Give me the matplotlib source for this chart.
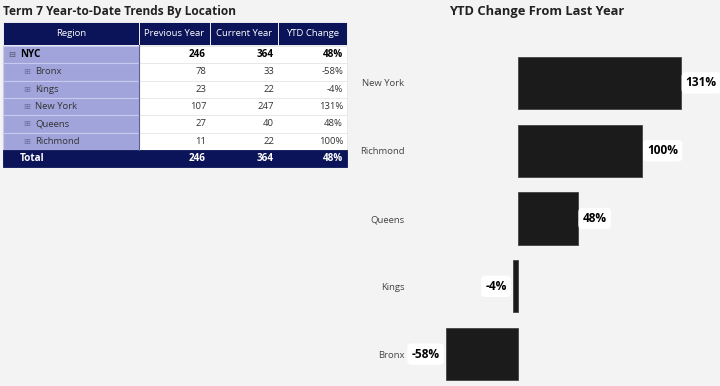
import matplotlib
matplotlib.use('Agg')
import matplotlib.pyplot as plt
from matplotlib.patches import Rectangle

plt.rcParams['font.family'] = ['Open Sans', 'DejaVu Sans']

# data
regions = ['Bronx', 'Kings', 'New York', 'Queens', 'Richmond']
prev_year = [78, 23, 107, 27, 11]
curr_year = [33, 22, 247, 40, 22]
ytd_change = [-58, -4, 131, 48, 100]
total_prev = 246
total_curr = 364
total_ytd = 48
headers = ['Region', 'Previous Year', 'Current Year', 'YTD Change']

bg = '#f3f3f3'
navy = '#0b1459'
lilac = '#a0a4da'
lilac_line = '#c7caee'

fig = plt.figure(figsize=(7.2, 3.86), dpi=100)
fig.patch.set_facecolor(bg)

# table drawn in pixel space
tab = fig.add_axes([0, 0, 1, 1])
tab.set_xlim(0, 720)
tab.set_ylim(386, 0)
tab.axis('off')

tab.text(3, 12, 'Term 7 Year-to-Date Trends By Location', fontsize=8.6,
         fontweight='bold', va='center', ha='left', color='#222222')

col_w = [136, 71, 68, 69]
x0 = 3
col_x = [x0]
for w in col_w:
    col_x.append(col_x[-1] + w)
head_top, head_h = 22, 23
row_h = 17.3
total_h = 17
fs = 6.8

# header
for i, h in enumerate(headers):
    tab.add_patch(Rectangle((col_x[i], head_top), col_w[i], head_h,
                            facecolor=navy, edgecolor='white', lw=0.6))
    tab.text((col_x[i] + col_x[i + 1]) / 2, head_top + head_h / 2, h,
             color='white', fontsize=fs, ha='center', va='center')

rows = [('NYC', total_prev, total_curr, total_ytd, True)]
for r, p, c, y in zip(regions, prev_year, curr_year, ytd_change):
    rows.append((r, p, c, y, False))

y = head_top + head_h + 1
for name, p, c, yc, is_parent in rows:
    tab.add_patch(Rectangle((col_x[0], y), col_w[0], row_h,
                            facecolor=lilac, edgecolor=lilac_line, lw=0.8))
    tab.add_patch(Rectangle((col_x[1], y), col_x[4] - col_x[1], row_h,
                            facecolor='white', edgecolor='#e6e6e6', lw=0.6))
    cy = y + row_h / 2
    fw = 'bold' if is_parent else 'normal'
    col = 'black' if is_parent else '#333333'
    if is_parent:
        tab.text(x0 + 5, cy, '\u229f', fontsize=6, color='#555566',
                 ha='left', va='center', family='DejaVu Sans')
        tab.text(x0 + 17, cy, name, fontsize=fs + 0.3, fontweight='bold',
                 ha='left', va='center', color='black')
    else:
        tab.text(x0 + 20, cy, '\u229e', fontsize=6, color='#6a6e9e',
                 ha='left', va='center', family='DejaVu Sans')
        tab.text(x0 + 32, cy, name, fontsize=fs, ha='left', va='center',
                 color='#333333')
    vals = [str(p), str(c), f'{yc}%']
    for j, v in enumerate(vals):
        tab.text(col_x[j + 2] - 4, cy, v, fontsize=fs + (0.3 if is_parent else 0),
                 fontweight=fw, ha='right', va='center', color=col)
    y += row_h

# total row
tab.add_patch(Rectangle((col_x[0], y), col_x[4] - col_x[0], total_h,
                        facecolor=navy, edgecolor=navy, lw=0.6))
tab.plot([col_x[1], col_x[1]], [head_top + head_h, y], color='#5a5f9a', lw=0.8)
cy = y + total_h / 2
tab.text(x0 + 17, cy, 'Total', fontsize=fs + 0.3, fontweight='bold', color='white',
         ha='left', va='center')
for j, v in enumerate([str(total_prev), str(total_curr), f'{total_ytd}%']):
    tab.text(col_x[j + 2] - 4, cy, v, fontsize=fs + 0.3, fontweight='bold',
             color='white', ha='right', va='center')

# bar chart
tab.text(537, 12, 'YTD Change From Last Year', fontsize=9.3, fontweight='bold',
         ha='center', va='center', color='#222222')

order = sorted(range(len(regions)), key=lambda i: ytd_change[i])
names = [regions[i] for i in order]
vals = [ytd_change[i] for i in order]

ax = fig.add_axes([410 / 720, 0, 305 / 720, (386 - 45) / 386])
ax.set_facecolor('none')
pos = list(range(len(names)))
ax.barh(pos, vals, height=0.77, color='#1b1b1b', edgecolor='#444444', lw=0.6)
ax.set_xlim(-86.8, 158.4)
ax.set_ylim(-0.47, 4.56)
ax.set_yticks(pos)
ax.set_yticklabels(names, fontsize=fs, color='#444444')
ax.tick_params(axis='y', length=0, pad=4)
ax.set_xticks([])
for s in ax.spines.values():
    s.set_visible(False)

for p, v in zip(pos, vals):
    if v >= 0:
        ax.annotate(f'{v}%', (v, p), xytext=(3.5, 0), textcoords='offset points',
                    ha='left', va='center', fontsize=8.6, fontweight='bold',
                    color='black', annotation_clip=False,
                    bbox=dict(boxstyle='round,pad=0.35', fc='white', ec='none'))
    else:
        ax.annotate(f'{v}%', (v, p), xytext=(-4.5, 0), textcoords='offset points',
                    ha='right', va='center', fontsize=8.6, fontweight='bold',
                    color='black', annotation_clip=False,
                    bbox=dict(boxstyle='round,pad=0.35', fc='white', ec='none'))

fig.savefig('out.png', dpi=100, facecolor=bg)
